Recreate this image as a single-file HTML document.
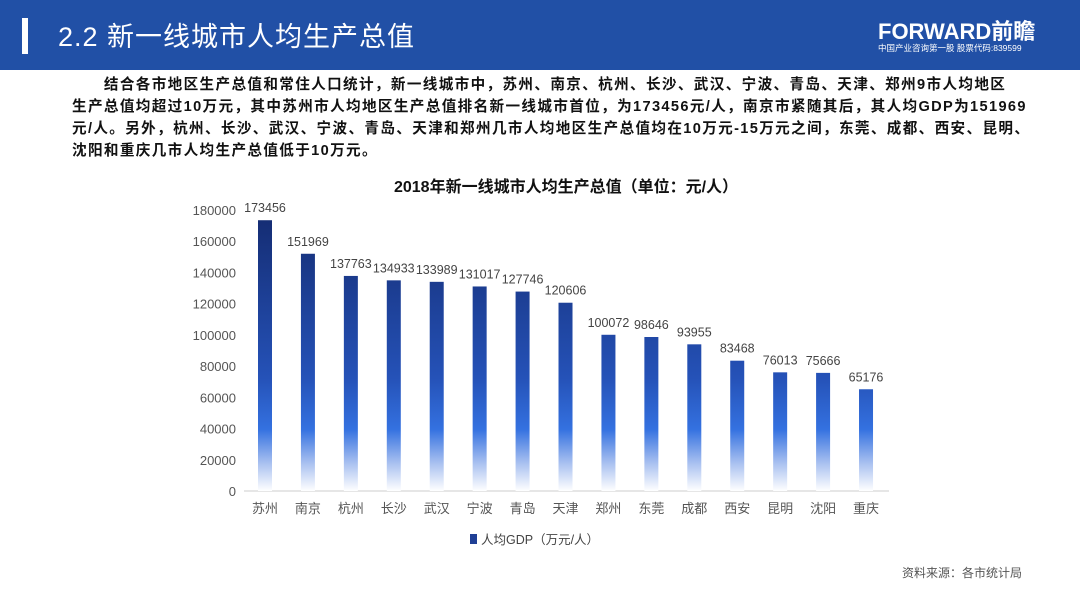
<!DOCTYPE html>
<html><head><meta charset="utf-8">
<style>
body{margin:0;width:1080px;height:608px;background:#fff;overflow:hidden;position:relative;font-family:"Liberation Sans","Noto Sans CJK SC",sans-serif}
#hdr{position:absolute;left:0;top:0;width:1080px;height:70px;background:#2150a6}
#bar{position:absolute;left:22px;top:18px;width:6px;height:36px;background:#fff}
#title{position:absolute;left:58px;top:19px;color:#fff;font-size:27px;line-height:36px;letter-spacing:1px}
#logo{position:absolute;left:878px;top:14px;color:#fff;font-size:22px;font-weight:bold}
#logosub{position:absolute;left:878px;top:42px;color:#fff;font-size:8.5px;white-space:nowrap}
#para{position:absolute;left:72px;top:74px;width:1000px;font-size:14.6px;line-height:22px;color:#111;font-weight:bold;white-space:nowrap;letter-spacing:1.35px}
#src{position:absolute;left:902px;top:564px;font-size:12px;color:#555}
svg{position:absolute;left:0;top:0}
</style></head><body>
<div id="hdr"></div>
<div id="bar"></div>
<div id="title">2.2 新一线城市人均生产总值</div>
<div id="logo">FORWARD前瞻</div>
<div id="logosub">中国产业咨询第一股 股票代码:839599</div>
<div id="para">&emsp;&emsp;结合各市地区生产总值和常住人口统计，新一线城市中，苏州、南京、杭州、长沙、武汉、宁波、青岛、天津、郑州9市人均地区<br>生产总值均超过10万元，其中苏州市人均地区生产总值排名新一线城市首位，为173456元/人，南京市紧随其后，其人均GDP为151969<br>元/人。另外，杭州、长沙、武汉、宁波、青岛、天津和郑州几市人均地区生产总值均在10万元-15万元之间，东莞、成都、西安、昆明、<br>沈阳和重庆几市人均生产总值低于10万元。</div>
<div id="src">资料来源：各市统计局</div>
<svg id="chart" width="1080" height="608">
<defs><linearGradient id="g" x1="0" y1="0" x2="0" y2="1" gradientUnits="userSpaceOnUse">
</linearGradient></defs>
</svg>
<script>
const categories=["苏州","南京","杭州","长沙","武汉","宁波","青岛","天津","郑州","东莞","成都","西安","昆明","沈阳","重庆"];
const values=[173456,151969,137763,134933,133989,131017,127746,120606,100072,98646,93955,83468,76013,75666,65176];
const ticks=[0,20000,40000,60000,80000,100000,120000,140000,160000,180000];
const NS="http://www.w3.org/2000/svg";
const svg=document.getElementById('chart');
const y0=491,yTop=210,maxV=180000;
const y=v=>y0-(v/maxV)*(y0-yTop);
const x0=265,step=42.93;
const x=i=>x0+i*step;
function mk(t,a,p){const e=document.createElementNS(NS,t);for(const k in a)e.setAttribute(k,a[k]);(p||svg).appendChild(e);return e;}
const g=document.getElementById('g');
g.setAttribute('y1',yTop);g.setAttribute('y2',y0);
[[0,'#142b70'],[0.6,'#2552b8'],[0.78,'#3471e0'],[0.9,'#a8c0f0'],[1,'#ffffff']].forEach(s=>mk('stop',{offset:s[0],'stop-color':s[1]},g));
const ttl=mk('text',{x:566,y:192,'text-anchor':'middle','font-size':16,'font-weight':'bold',fill:'#111'});
ttl.textContent='2018年新一线城市人均生产总值（单位：元/人）';


ticks.forEach(t=>{const e=mk('text',{x:236,y:y(t)+5,'text-anchor':'end','font-size':13,fill:'#555'});e.textContent=t;

});
const ax=mk('line',{x1:244,x2:889,y1:y0,y2:y0,stroke:'#ccc','stroke-width':1});


values.forEach((v,i)=>{
 const r=mk('rect',{x:x(i)-7,y:y(v),width:14,height:y0-y(v),fill:'url(#g)'});
 
 
 const l=mk('text',{x:x(i),y:y(v)-8,'text-anchor':'middle','font-size':12.5,fill:'#444'});l.textContent=v;
 
 
 const c=mk('text',{x:x(i),y:513,'text-anchor':'middle','font-size':13,fill:'#555'});c.textContent=categories[i];
 
 
});
const lg=mk('rect',{x:470,y:534,width:7,height:10,fill:'#1f3f95'});


const lt=mk('text',{x:481,y:544,'font-size':12.5,fill:'#444'});lt.textContent='人均GDP（万元/人）';


</script>
</body></html>
